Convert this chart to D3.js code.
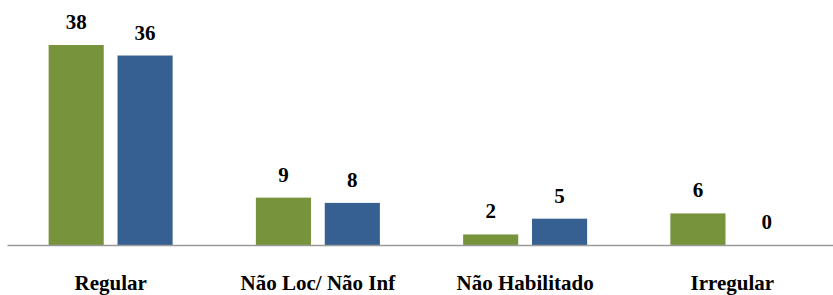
<!DOCTYPE html>
<html>
<head>
<meta charset="utf-8">
<script src="https://cdn.jsdelivr.net/npm/d3@7"></script>
<style>
    body { margin: 0; background: #fff; }
    svg { display: block; }
    svg text { font-family: "Liberation Serif", "Times New Roman", Times, "DejaVu Serif", serif; font-weight: bold; }
</style>
</head>
<body>
<div id="chart"></div>
<script>
// Dados do gráfico
const categories = ["Regular", "Não Loc/ Não Inf", "Não Habilitado", "Irregular"];
const seriesNames = ["Série 1", "Série 2"];
const serie1 = [38, 9, 2, 6];
const serie2 = [36, 8, 5, 0];
const colors = ["#77933C", "#376092"];

const width = 833, height = 295;
const margin = { top: 45, right: -3, bottom: 50, left: 7 };
const innerW = width - margin.left - margin.right;
const innerH = height - margin.top - margin.bottom;

const svg = d3.select("#chart")
    .append("svg")
    .attr("width", width)
    .attr("height", height);

const g = svg.append("g")
    .attr("transform", `translate(${margin.left},${margin.top})`);

// Escalas
const x = d3.scaleBand()
    .domain(categories)
    .range([0, innerW]);

const xInner = d3.scaleBand()
    .domain(seriesNames)
    .range([x.bandwidth() / 2 - 62, x.bandwidth() / 2 + 62])
    .paddingInner(0.2);

const y = d3.scaleLinear()
    .domain([0, 38])
    .range([innerH, 0]);

const rows = categories.map((c, i) => ({
    cat: c,
    values: [serie1[i], serie2[i]]
}));

const groups = g.selectAll("g.grp")
    .data(rows)
    .enter().append("g")
    .attr("class", "grp")
    .attr("transform", d => `translate(${x(d.cat)},0)`);

// Barras
groups.selectAll("rect")
    .data(d => d.values.map((v, j) => ({ v, s: seriesNames[j], j })))
    .enter().append("rect")
    .attr("x", d => xInner(d.s))
    .attr("y", d => y(d.v))
    .attr("width", xInner.bandwidth())
    .attr("height", d => innerH - y(d.v))
    .attr("fill", d => colors[d.j]);

// Rótulos de valor
groups.selectAll("text.val")
    .data(d => d.values.map((v, j) => ({ v, s: seriesNames[j] })))
    .enter().append("text")
    .attr("class", "val")
    .attr("x", d => xInner(d.s) + xInner.bandwidth() / 2)
    .attr("y", d => y(d.v) - 16)
    .attr("text-anchor", "middle")
    .style("font-size", "21px")
    .attr("fill", "#000")
    .text(d => d.v);

// Eixo X
const xAxis = g.append("g")
    .attr("transform", `translate(0,${innerH})`)
    .call(d3.axisBottom(x).tickSize(0).tickPadding(30));

xAxis.attr("font-family", null);

xAxis.select(".domain")
    .attr("stroke", "#9a9a9a")
    .attr("stroke-width", 1.5);

xAxis.selectAll("text")
    .style("font-size", "21px")
    .attr("fill", "#000");
</script>
</body>
</html>
